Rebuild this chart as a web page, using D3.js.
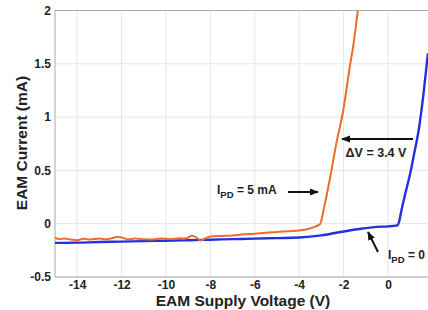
<!DOCTYPE html>
<html>
<head>
<meta charset="utf-8">
<script src="https://cdn.jsdelivr.net/npm/d3@7"></script>
<style>
  body { margin: 0; background: #fff; }
  text { font-family: Arial, "Liberation Sans", sans-serif; font-weight: bold; fill: #222; }
</style>
</head>
<body>
<div id="vis"></div>
<script>
// tick values
var xTicks = [-14, -12, -10, -8, -6, -4, -2, 0];
var yTicks = [-0.5, 0, 0.5, 1, 1.5, 2];

// I_PD = 0 (blue)
var blueV = [-15, -14, -13, -12, -11, -10, -9, -8, -7, -6, -5, -4, -3, -2.2, -1.3, -0.5, 0, 0.42, 0.5, 0.6, 0.8, 1.0, 1.2, 1.4, 1.6, 1.8];
var blueI = [-0.18, -0.178, -0.172, -0.168, -0.163, -0.16, -0.155, -0.15, -0.145, -0.14, -0.135, -0.13, -0.11, -0.08, -0.05, -0.03, -0.025, -0.015, 0.02, 0.12, 0.3, 0.47, 0.68, 0.9, 1.22, 1.6];

// I_PD = 5 mA (orange)
var orangeV = [-15, -14.8, -14.6, -14.3, -14, -13.7, -13.4, -13, -12.7, -12.4, -12.2, -12, -11.7, -11.4, -11, -10.6, -10.2, -9.8, -9.4, -9.1, -8.85, -8.65, -8.45, -8.25, -8, -7.5, -7, -6.5, -6, -5.5, -5, -4.5, -4, -3.6, -3.3, -3.15, -3.05, -2.9, -2.6, -2.33, -2.02, -1.7, -1.58, -1.36];
var orangeI = [-0.13, -0.145, -0.14, -0.148, -0.155, -0.142, -0.148, -0.14, -0.147, -0.135, -0.122, -0.13, -0.147, -0.14, -0.145, -0.148, -0.14, -0.144, -0.137, -0.14, -0.112, -0.125, -0.158, -0.14, -0.12, -0.115, -0.11, -0.1, -0.095, -0.085, -0.078, -0.07, -0.063, -0.05, -0.03, -0.015, 0.0, 0.13, 0.44, 0.75, 1.06, 1.5, 1.65, 2.0];

var w = 428, h = 310;
var margin = {top: 10.5, left: 55, bottom: 277};

var x = d3.scaleLinear().domain([-15, 2]).range([margin.left, margin.left + 17 * 22.2]);
var y = d3.scaleLinear().domain([-0.5, 2]).range([margin.bottom, margin.top]);

var svg = d3.select("#vis").append("svg")
    .attr("width", w)
    .attr("height", h);

var defs = svg.append("defs");
defs.append("clipPath").attr("id", "plotclip")
  .append("rect")
    .attr("x", x(-15)).attr("y", y(2))
    .attr("width", w - x(-15)).attr("height", y(-0.5) - y(2));
defs.append("marker")
    .attr("id", "arrow")
    .attr("viewBox", "0 0 10 10")
    .attr("refX", 9).attr("refY", 5)
    .attr("markerWidth", 4.5).attr("markerHeight", 4.5)
    .attr("orient", "auto")
  .append("path")
    .attr("d", "M0,1 L10,5 L0,9 z")
    .attr("fill", "#111");

// grid
svg.append("g").selectAll("line.gx")
  .data(xTicks).enter().append("line")
    .attr("x1", function(d) { return x(d); })
    .attr("x2", function(d) { return x(d); })
    .attr("y1", y(-0.5)).attr("y2", y(2))
    .attr("stroke", "#e6e6e6").attr("stroke-width", 1);
svg.append("g").selectAll("line.gy")
  .data(yTicks).enter().append("line")
    .attr("x1", x(-15)).attr("x2", w)
    .attr("y1", function(d) { return y(d); })
    .attr("y2", function(d) { return y(d); })
    .attr("stroke", "#e6e6e6").attr("stroke-width", 1);

// axes
var xAxis = svg.append("g")
    .attr("transform", "translate(0," + y(-0.5) + ")")
    .call(d3.axisBottom(x).tickValues(xTicks).tickSize(0).tickPadding(3).tickFormat(d3.format("d")));
var yAxis = svg.append("g")
    .attr("transform", "translate(" + x(-15) + ",0)")
    .call(d3.axisLeft(y).tickValues(yTicks).tickSize(0).tickPadding(4).tickFormat(function(d) { return d; }));

[xAxis, yAxis].forEach(function(a) {
  a.select(".domain").remove();
  a.selectAll("text")
    .style("font-size", "12px")
    .style("font-family", "Arial, 'Liberation Sans', sans-serif")
    .style("font-weight", "bold")
    .attr("fill", "#222");
});
xAxis.selectAll("text").text(function(d) { return d < 0 ? "-" + Math.abs(d) : d; });
yAxis.selectAll("text").text(function(d) { return d < 0 ? "-" + Math.abs(d) : d; });

// box
svg.append("line").attr("x1", x(-15)).attr("x2", w).attr("y1", y(2)).attr("y2", y(2)).attr("stroke", "#aaa");
svg.append("line").attr("x1", x(-15)).attr("x2", w).attr("y1", y(-0.5)).attr("y2", y(-0.5)).attr("stroke", "#aaa");
svg.append("line").attr("x1", x(-15)).attr("x2", x(-15)).attr("y1", y(2)).attr("y2", y(-0.5)).attr("stroke", "#aaa");

// curves
var line = d3.line()
    .curve(d3.curveMonotoneX)
    .x(function(d) { return x(d[0]); })
    .y(function(d) { return y(d[1]); });

var plot = svg.append("g").attr("clip-path", "url(#plotclip)");
plot.append("path")
    .datum(d3.zip(blueV, blueI))
    .attr("d", line)
    .attr("fill", "none")
    .attr("stroke", "#2230e2")
    .attr("stroke-width", 2.4);
plot.append("path")
    .datum(d3.zip(orangeV, orangeI))
    .attr("d", line)
    .attr("fill", "none")
    .attr("stroke", "#f06a2a")
    .attr("stroke-width", 2);

// axis titles
svg.append("text")
    .attr("x", 243).attr("y", 306)
    .attr("text-anchor", "middle")
    .style("font-size", "15.5px")
    .text("EAM Supply Voltage (V)");
svg.append("text")
    .attr("transform", "translate(27,143) rotate(-90)")
    .attr("text-anchor", "middle")
    .style("font-size", "15.5px")
    .text("EAM Current (mA)");

// annotations
function arrow(x1, y1, x2, y2) {
  svg.append("line")
    .attr("x1", x1).attr("y1", y1).attr("x2", x2).attr("y2", y2)
    .attr("stroke", "#111").attr("stroke-width", 2)
    .attr("marker-end", "url(#arrow)");
}
arrow(413, 139, 342, 139);
arrow(288, 192, 318, 192);
arrow(378, 252, 368, 232);

svg.append("text")
    .attr("x", 376).attr("y", 157)
    .attr("text-anchor", "middle")
    .style("font-size", "12.5px")
    .text("\u0394V = 3.4 V");

var t1 = svg.append("text").attr("x", 217).attr("y", 194).style("font-size", "12px");
t1.append("tspan").text("I");
t1.append("tspan").attr("dy", 4).style("font-size", "9.5px").text("PD");
t1.append("tspan").attr("dy", -4).text(" = 5 mA");

var t2 = svg.append("text").attr("x", 388).attr("y", 259).style("font-size", "12px");
t2.append("tspan").text("I");
t2.append("tspan").attr("dy", 4).style("font-size", "9.5px").text("PD");
t2.append("tspan").attr("dy", -4).text(" = 0");
</script>
</body>
</html>
